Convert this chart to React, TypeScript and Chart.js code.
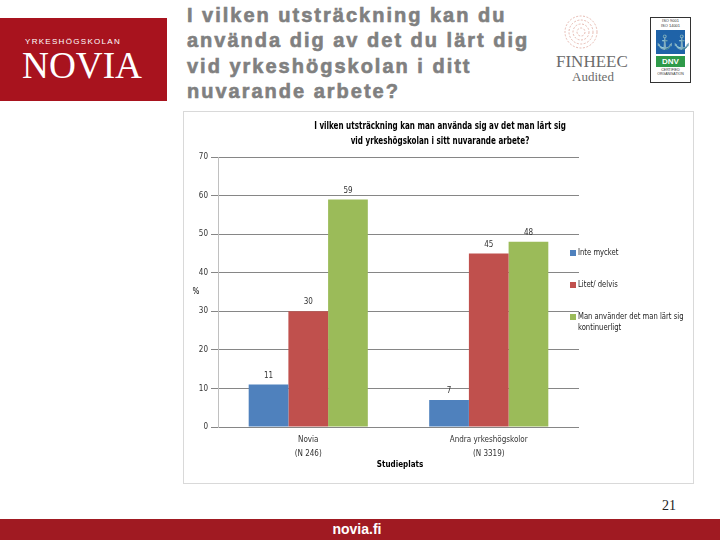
import React, { useEffect, useRef } from "react";
import { Chart, registerables } from "chart.js";

Chart.register(...registerables);

const categories = [["Novia", "(N 246)"], ["Andra yrkeshögskolor", "(N 3319)"]];
const seriesLabels = [["Inte mycket"], ["Litet/ delvis"], ["Man använder det man lärt sig", "kontinuerligt"]];
const inteMycket = [11, 7];
const litetDelvis = [30, 45];
const kontinuerligt = [59, 48];
const seriesColors = ["#4F81BD", "#C0504D", "#9BBB59"];
const chartTitle = ["I vilken utsträckning kan man använda sig av det man lärt sig", "vid yrkeshögskolan i sitt nuvarande arbete?"];
const xTitle = "Studieplats";
const yTitle = "%";
const yMax = 70;
const yStep = 10;
const slideTitle = ["I vilken utsträckning kan du", "använda dig av det du lärt dig", "vid yrkeshögskolan i ditt", "nuvarande arbete?"];

const FONT = "'Liberation Sans Narrow', 'DejaVu Sans Condensed', 'Liberation Sans', sans-serif";

const overlayPlugin = {
  id: "overlay",
  afterDatasetsDraw(chart: any) {
    const ctx = chart.ctx;
    ctx.save();
    // data labels
    ctx.fillStyle = "#333333";
    ctx.font = `8px ${FONT}`;
    ctx.textAlign = "center";
    ctx.textBaseline = "middle";
    chart.data.datasets.forEach((ds: any, i: number) => {
      const meta = chart.getDatasetMeta(i);
      meta.data.forEach((bar: any, j: number) => {
        ctx.fillText(String(ds.data[j]), bar.x, bar.y - 9);
      });
    });
    // chart title (condensed)
    ctx.fillStyle = "#000000";
    ctx.font = `bold 10px ${FONT}`;
    chartTitle.forEach((line, k) => {
      ctx.save();
      ctx.translate(256, 14 + k * 15);
      ctx.scale(0.8, 1);
      ctx.fillText(line, 0, 0);
      ctx.restore();
    });
    // axis titles
    ctx.font = `8px ${FONT}`;
    ctx.fillText(yTitle, 12, 180);
    ctx.font = `bold 8px ${FONT}`;
    ctx.fillText(xTitle, 216, 353);
    // legend
    ctx.textAlign = "left";
    ctx.font = `8px ${FONT}`;
    const ys = [141, 173, 205];
    seriesLabels.forEach((lines, k) => {
      ctx.fillStyle = seriesColors[k];
      ctx.fillRect(386, ys[k] - 3, 6, 6);
      ctx.fillStyle = "#222222";
      lines.forEach((line, m) => {
        ctx.save();
        ctx.translate(394, ys[k] + m * 11);
        ctx.scale(0.95, 1);
        ctx.fillText(line, 0, 0);
        ctx.restore();
      });
    });
    ctx.restore();
  },
};

function BarChart() {
  const ref = useRef<HTMLCanvasElement | null>(null);
  useEffect(() => {
    if (!ref.current) return;
    const chart = new Chart(ref.current, {
      type: "bar",
      data: {
        labels: categories as any,
        datasets: [
          { label: seriesLabels[0].join(" "), data: inteMycket, backgroundColor: seriesColors[0] },
          { label: seriesLabels[1].join(" "), data: litetDelvis, backgroundColor: seriesColors[1] },
          { label: seriesLabels[2].join(" "), data: kontinuerligt, backgroundColor: seriesColors[2] },
        ],
      },
      options: {
        responsive: false,
        animation: false,
        devicePixelRatio: 1,
        layout: { padding: { top: 45, right: 113, left: 0, bottom: 0 } },
        datasets: { bar: { categoryPercentage: 0.66, barPercentage: 1.0 } },
        plugins: { legend: { display: false }, title: { display: false }, tooltip: { enabled: false } },
        scales: {
          x: {
            grid: { display: false, drawTicks: false },
            border: { display: false },
            ticks: { color: "#333333", font: { family: FONT, size: 8, lineHeight: 1.75 }, padding: 6, maxRotation: 0 },
            afterFit: (s: any) => { s.height = 55; },
          },
          y: {
            min: 0,
            max: yMax,
            ticks: { stepSize: yStep, color: "#333333", font: { family: FONT, size: 8 }, padding: 3 },
            grid: { color: "#868686", tickLength: 7, tickColor: "#868686" },
            border: { display: true, color: "#c0c0c0" },
            afterFit: (s: any) => { s.width = 34; },
          },
        },
      },
      plugins: [overlayPlugin],
    });
    return () => chart.destroy();
  }, []);
  return <canvas ref={ref} width={508} height={370} style={{ display: "block", width: 508, height: 370 }} />;
}

export default function App() {
  useEffect(() => {
    document.body.style.margin = "0";
  }, []);
  return (
    <div style={{ position: "relative", width: 720, height: 540, background: "#fff", overflow: "hidden", fontFamily: "'Liberation Sans', Arial, sans-serif" }}>
      {/* Novia logo */}
      <div style={{ position: "absolute", left: 0, top: 18, width: 167, height: 83, background: "#A8131E", color: "#fff" }}>
        <div style={{ position: "absolute", left: 25, top: 19, fontSize: 8, letterSpacing: 1.3, lineHeight: "10px" }}>YRKESHÖGSKOLAN</div>
        <div style={{ position: "absolute", left: 22, top: 28, fontSize: 38, lineHeight: "38px", fontFamily: "'Liberation Serif', serif", letterSpacing: 0, transform: "scaleX(0.98)", transformOrigin: "left" }}>NOVIA</div>
      </div>
      {/* slide title */}
      <div style={{ position: "absolute", left: 187, top: 3, fontSize: 20, lineHeight: "25.3px", fontWeight: "bold", color: "#808080", letterSpacing: 2, WebkitTextStroke: "0.6px #808080" } as any}>
        {slideTitle.map((l, i) => (<div key={i}>{l}</div>))}
      </div>
      {/* FINHEEC */}
      <svg style={{ position: "absolute", left: 563, top: 14 }} width={36} height={36} viewBox="0 0 36 36">
        {[16, 12, 8, 4].map((r, i) => (<circle key={i} cx={18} cy={18} r={r} fill="none" stroke="#e0a9a0" strokeWidth={0.8} strokeDasharray="2 1.5" />))}
      </svg>
      <div style={{ position: "absolute", left: 556, top: 53, fontSize: 17, lineHeight: "18px", fontFamily: "'Liberation Serif', serif", color: "#6b6b6b" }}>FINHEEC</div>
      <div style={{ position: "absolute", left: 572, top: 70, fontSize: 13, lineHeight: "14px", fontFamily: "'Liberation Serif', serif", color: "#6b6b6b" }}>Audited</div>
      {/* DNV */}
      <div style={{ position: "absolute", left: 650, top: 17, width: 41, height: 66, border: "1px solid #333", boxSizing: "border-box", background: "#fff" }}>
        <div style={{ fontSize: 4, lineHeight: "4.5px", textAlign: "center", color: "#333", marginTop: 1 }}>ISO 9001<br />ISO 14001</div>
        <div style={{ margin: "2px 5px 0", height: 24, background: "#1f63a8", color: "#fff", fontSize: 14, lineHeight: "24px", textAlign: "center" }}>⚓⚓</div>
        <div style={{ margin: "2px 5px 0", height: 11, background: "#2e9a49", color: "#fff", fontSize: 8, fontWeight: "bold", lineHeight: "11px", textAlign: "center" }}>DNV</div>
        <div style={{ fontSize: 3.5, lineHeight: "4px", textAlign: "center", color: "#333", marginTop: 1 }}>CERTIFIED<br />ORGANISATION</div>
      </div>
      {/* chart frame */}
      <div style={{ position: "absolute", left: 183, top: 111, width: 511, height: 373, border: "1px solid #d9d9d9", boxSizing: "border-box", background: "#fff" }} />
      <div style={{ position: "absolute", left: 184, top: 112 }}>
        <BarChart />
      </div>
      {/* page number */}
      <div style={{ position: "absolute", left: 662, top: 498, fontSize: 14, lineHeight: "16px", fontFamily: "'Liberation Serif', serif", color: "#222" }}>21</div>
      {/* footer */}
      <div style={{ position: "absolute", left: 0, top: 519, width: 720, height: 21, background: "#A01A22", color: "#fff", textAlign: "center", fontWeight: "bold", fontSize: 14, lineHeight: "21px" }}>
        <span style={{ marginLeft: -6 }}>novia.fi</span>
      </div>
    </div>
  );
}
